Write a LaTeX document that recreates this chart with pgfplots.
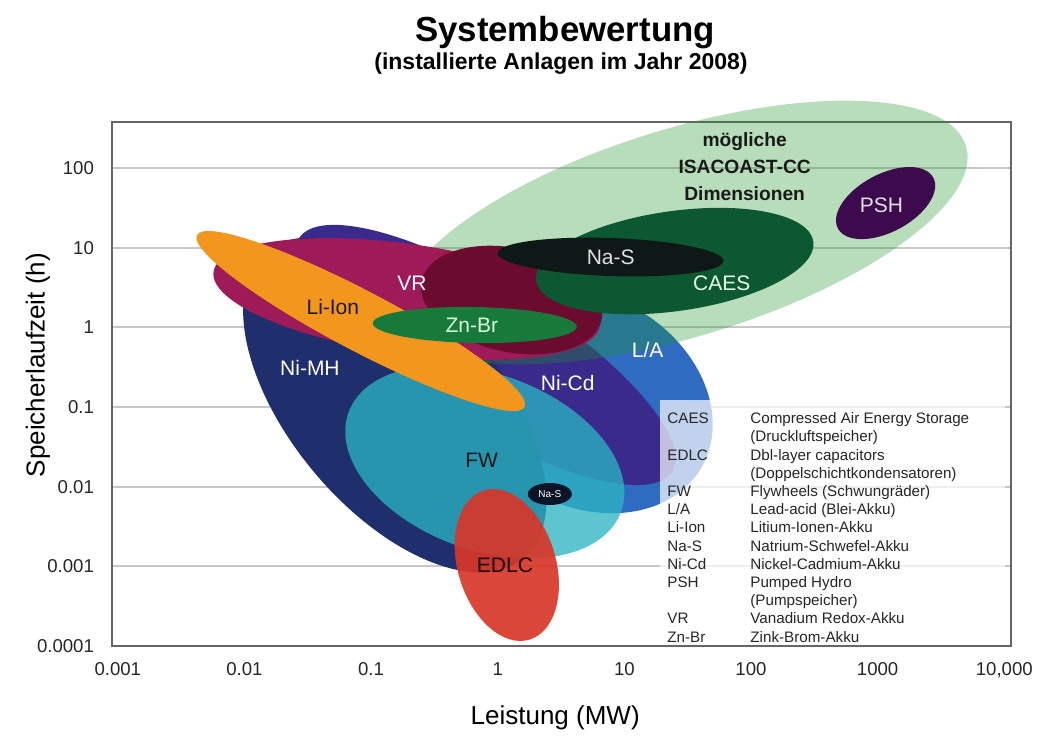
\documentclass[border=0pt]{standalone}
\usepackage{pgfplots}
\pgfplotsset{compat=1.18}
\usepackage{fontspec}
\setmainfont{Liberation Sans}
\definecolor{LAblue}{RGB}{46,107,193}
\definecolor{NiCd}{RGB}{58,42,140}
\definecolor{NiMH}{RGB}{31,47,110}
\definecolor{FWc}{RGB}{43,180,194}
\definecolor{ISA}{RGB}{30,149,39}
\definecolor{VRc}{RGB}{158,26,88}
\definecolor{VRd}{RGB}{107,11,45}
\definecolor{LiIon}{RGB}{242,150,30}
\definecolor{ZnBr}{RGB}{23,122,58}
\definecolor{CAESc}{RGB}{12,88,50}
\definecolor{NaS}{RGB}{14,24,22}
\definecolor{PSHc}{RGB}{62,10,78}
\definecolor{EDLCc}{RGB}{215,55,40}
\definecolor{NaS2}{RGB}{12,20,40}
\pgfdeclareplotmark{fillcirc}{\pgfpathcircle{\pgfpointorigin}{\pgfplotmarksize}\pgfusepathqfill}
\pgfplotsset{ellip/.style n args={5}{only marks, mark=fillcirc, mark size=1pt, color=#1,
  mark options={fill=#1, fill opacity=#5, rotate=#2, xscale=#3, yscale=#4}}}
\newcommand\labf{\fontsize{10.5}{12}\selectfont}
\begin{document}
\begin{tikzpicture}[x=1pt,y=1pt]
\useasboundingbox (-56,-47) rectangle (464.5,323);
\begin{axis}[at={(0,0)}, anchor=south west, scale only axis,
  width=449.5pt, height=262pt,
  xmode=log, ymode=log, xmin=0.0009, xmax=11300, ymin=0.0001, ymax=378,
  clip=false,
  axis line style={draw=black!60, line width=0.8pt},
  ymajorgrids, grid style={black!22, line width=0.9pt},
  major tick length=0pt, minor tick length=0pt,
  xminorticks=false, yminorticks=false,
  xtick={0.001,0.01,0.1,1,10,100,1000,10000},
  xticklabels={0.001,0.01,0.1,1,10,100,1000,{10,000}},
  ytick={0.0001,0.001,0.01,0.1,1,10,100},
  yticklabels={0.0001,0.001,0.01,0.1,1,10,100},
  tick label style={font=\fontsize{9.3}{11}\selectfont, text=black!85},
  xticklabel style={yshift=-4.6pt},
  yticklabel style={xshift=-5.5pt},
  xlabel={Leistung (MW)},
  xlabel style={at={(axis description cs:0.493,-0.137)}, anchor=center, font=\fontsize{13}{15}\selectfont},
  ylabel={Speicherlaufzeit (h)},
  ylabel style={at={(axis description cs:-0.0823,0.536)}, anchor=center, font=\fontsize{13}{15}\selectfont},
]
% ellipses: center (MW, h); rotation (deg), semi-axes (pt), opacity
\addplot[ellip={LAblue}{-30}{67.5}{52.5}{1}] coordinates {(4.85,0.1225)};
\addplot[ellip={NiCd}{-32}{110}{34}{1}] coordinates {(0.80,0.45)};
\addplot[ellip={NiMH}{-50}{100}{52.5}{1}] coordinates {(0.154,0.106)};
\addplot[ellip={FWc}{-20}{72.5}{44}{0.77}] coordinates {(0.791,0.0204)};
\addplot[ellip={ISA}{17}{148}{52}{0.32}] coordinates {(29.0,15.5)};
\addplot[ellip={VRc}{-8}{97.5}{27.5}{1}] coordinates {(0.191,2.27)};
\addplot[ellip={VRd}{-12}{46}{26}{1}] coordinates {(1.29,2.20)};
\addplot[ellip={LiIon}{-27.7}{92.5}{15}{1}] coordinates {(0.0830,1.20)};
\addplot[ellip={ZnBr}{-1}{51}{9}{1}] coordinates {(0.659,1.07)};
\addplot[ellip={CAESc}{8}{70}{25}{1}] coordinates {(25.0,6.79)};
\addplot[ellip={NaS}{-2}{56.5}{9.5}{1}] coordinates {(7.80,7.63)};
\addplot[ellip={PSHc}{28}{27}{14.5}{1}] coordinates {(1156,36.3)};
\addplot[ellip={EDLCc}{-73}{39}{24.5}{0.92}] coordinates {(1.18,0.00104)};
\addplot[ellip={NaS2}{0}{11}{5.5}{1}] coordinates {(2.58,0.00809)};
% label anchors
\coordinate (cISA) at (axis cs:89.1,103);
\coordinate (cPSH) at (axis cs:1074,34.3);
\coordinate (cNaS) at (axis cs:7.80,7.5);
\coordinate (cCAES) at (axis cs:58.7,3.60);
\coordinate (cVR) at (axis cs:0.210,3.60);
\coordinate (cLi) at (axis cs:0.0499,1.80);
\coordinate (cZn) at (axis cs:0.624,1.07);
\coordinate (cLA) at (axis cs:15.3,0.519);
\coordinate (cNiMH) at (axis cs:0.0329,0.308);
\coordinate (cNiCd) at (axis cs:3.57,0.200);
\coordinate (cFW) at (axis cs:0.748,0.0216);
\coordinate (cNaS2) at (axis cs:2.58,0.00809);
\coordinate (cEDLC) at (axis cs:1.14,0.00104);
\end{axis}
% ellipse labels
\node[font=\bfseries\fontsize{9.6}{13.5}\selectfont, align=center, text=black!90] at (cISA) {mögliche\\ISACOAST-CC\\Dimensionen};
\node[font=\labf, text=black!12] at (cPSH) {PSH};
\node[font=\labf, text=black!12] at (cNaS) {Na-S};
\node[font=\labf, text=green!10!white] at (cCAES) {CAES};
\node[font=\labf, text=white] at (cVR) {VR};
\node[font=\labf, text=black!90] at (cLi) {Li-Ion};
\node[font=\labf, text=green!15!white] at (cZn) {Zn-Br};
\node[font=\labf, text=white] at (cLA) {L/A};
\node[font=\labf, text=white] at (cNiMH) {Ni-MH};
\node[font=\labf, text=white] at (cNiCd) {Ni-Cd};
\node[font=\labf, text=black!90] at (cFW) {FW};
\node[font=\fontsize{5}{6}\selectfont, text=white] at (cNaS2) {Na-S};
\node[font=\labf, text=black!90!red] at (cEDLC) {EDLC};
% legend box
\fill[white, opacity=0.7] (274,123) rectangle (446.5,0.6);
\node[anchor=north west, inner sep=0pt, font=\fontsize{7.6}{9.1}\selectfont, text=black!85] at (277.5,117.7) {%
\begin{tabular}{@{}p{41.5pt}@{}l@{}}
CAES & Compressed Air Energy Storage\\
 & (Druckluftspeicher)\\
EDLC & Dbl-layer capacitors\\
 & (Doppelschichtkondensatoren)\\
FW & Flywheels (Schwungräder)\\
L/A & Lead-acid (Blei-Akku)\\
Li-Ion & Litium-Ionen-Akku\\
Na-S & Natrium-Schwefel-Akku\\
Ni-Cd & Nickel-Cadmium-Akku\\
PSH & Pumped Hydro\\
 & (Pumpspeicher)\\
VR & Vanadium Redox-Akku\\
Zn-Br & Zink-Brom-Akku
\end{tabular}};
% titles
\node[font=\bfseries\fontsize{17.4}{20}\selectfont] at (226.5,306.5) {Systembewertung};
\node[font=\bfseries\fontsize{11.5}{13}\selectfont] at (224.5,291) {(installierte Anlagen im Jahr 2008)};
\end{tikzpicture}
\end{document}
